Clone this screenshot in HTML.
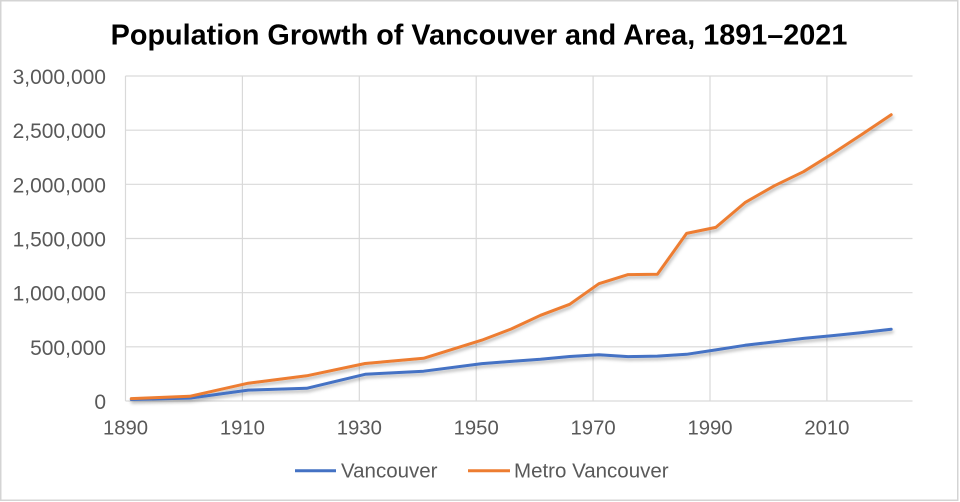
<!DOCTYPE html>
<html>
<head>
<meta charset="utf-8">
<style>
  html,body{margin:0;padding:0;background:#fff;}
  body{width:960px;height:502px;overflow:hidden;}
  svg{display:block;}
  text{font-family:"Liberation Sans",Arial,sans-serif;}
</style>
</head>
<body>
<svg width="960" height="502" viewBox="0 0 960 502" xmlns="http://www.w3.org/2000/svg">
  <defs>
    <filter id="sh" x="-5%" y="-5%" width="110%" height="120%">
      <feDropShadow dx="1" dy="2.5" stdDeviation="1.6" flood-color="#000" flood-opacity="0.28"/>
    </filter>
  </defs>
  <rect x="0" y="0" width="960" height="502" fill="#fff"/>
  <rect x="0.75" y="0.75" width="957" height="499.5" fill="none" stroke="#d4d4d4" stroke-width="1.5"/>

  <!-- Title -->
  <text x="479" y="44.5" text-anchor="middle" font-size="28.8" font-weight="bold" fill="#000">Population Growth of Vancouver and Area, 1891–2021</text>

  <!-- Horizontal gridlines -->
  <g stroke="#d9d9d9" stroke-width="1.2">
    <line x1="125.5" y1="76" x2="912.5" y2="76"/>
    <line x1="125.5" y1="130.2" x2="912.5" y2="130.2"/>
    <line x1="125.5" y1="184.3" x2="912.5" y2="184.3"/>
    <line x1="125.5" y1="238.5" x2="912.5" y2="238.5"/>
    <line x1="125.5" y1="292.7" x2="912.5" y2="292.7"/>
    <line x1="125.5" y1="346.8" x2="912.5" y2="346.8"/>
    <line x1="125.5" y1="401" x2="912.5" y2="401"/>
  </g>
  <!-- Vertical gridlines -->
  <g stroke="#d9d9d9" stroke-width="1.2">
    <line x1="125.5" y1="76" x2="125.5" y2="401"/>
    <line x1="242.4" y1="76" x2="242.4" y2="401"/>
    <line x1="359.3" y1="76" x2="359.3" y2="401"/>
    <line x1="476.2" y1="76" x2="476.2" y2="401"/>
    <line x1="593.1" y1="76" x2="593.1" y2="401"/>
    <line x1="710" y1="76" x2="710" y2="401"/>
    <line x1="826.9" y1="76" x2="826.9" y2="401"/>
  </g>

  <!-- Y axis labels -->
  <g font-size="21" fill="#595959" text-anchor="end">
    <text x="106" y="84">3,000,000</text>
    <text x="106" y="138.2">2,500,000</text>
    <text x="106" y="192.3">2,000,000</text>
    <text x="106" y="246.5">1,500,000</text>
    <text x="106" y="300.7">1,000,000</text>
    <text x="106" y="354.8">500,000</text>
    <text x="106" y="409">0</text>
  </g>

  <!-- X axis labels -->
  <g font-size="20.3" fill="#595959" text-anchor="middle">
    <text x="125.5" y="434.5">1890</text>
    <text x="242.4" y="434.5">1910</text>
    <text x="359.3" y="434.5">1930</text>
    <text x="476.2" y="434.5">1950</text>
    <text x="593.1" y="434.5">1970</text>
    <text x="710" y="434.5">1990</text>
    <text x="826.9" y="434.5">2010</text>
  </g>

  <!-- Series -->
  <g fill="none" stroke-width="3" stroke-linejoin="round" stroke-linecap="round" filter="url(#sh)">
    <polyline stroke="#4472C4" points="131.3,399.5 189.8,398.1 248.2,390.1 306.7,388.3 365.1,374.3 423.6,371.2 482,363.6 511.2,361.4 540.5,359.3 569.7,356.5 598.9,354.8 628.1,356.6 657.4,356.1 686.6,354.3 715.8,349.9 745,345.3 774.3,341.9 803.5,338.4 832.7,335.6 861.9,332.6 891.2,329.3"/>
    <polyline stroke="#ED7D31" points="131.3,398.6 189.8,396.3 248.2,383.2 306.7,375.8 365.1,363.5 423.6,358.3 482,340.1 511.2,329 540.5,315.3 569.7,304.3 598.9,283.7 628.1,274.6 657.4,274.3 686.6,233.4 715.8,227.4 745,202.6 774.3,185.8 803.5,171.7 832.7,153.5 861.9,134.4 891.2,114.7"/>
  </g>

  <!-- Legend -->
  <line x1="295" y1="470.7" x2="336" y2="470.7" stroke="#4472C4" stroke-width="3"/>
  <text x="341" y="477.3" font-size="20.5" fill="#595959">Vancouver</text>
  <line x1="468" y1="470.7" x2="510" y2="470.7" stroke="#ED7D31" stroke-width="3"/>
  <text x="514" y="477.3" font-size="20.5" fill="#595959">Metro Vancouver</text>
</svg>
</body>
</html>
